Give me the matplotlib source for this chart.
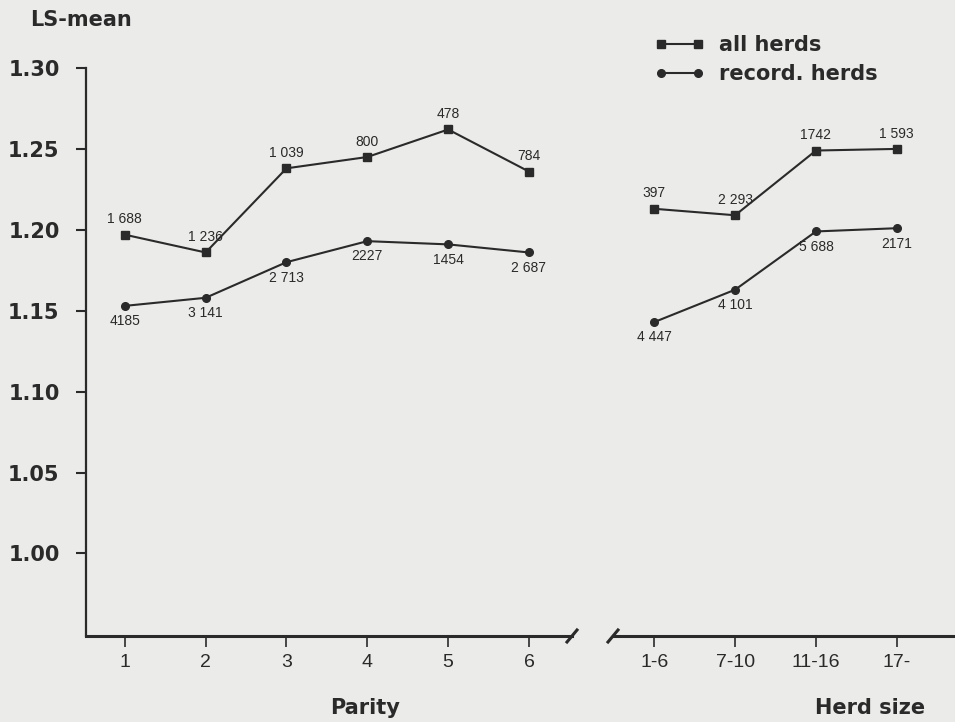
import matplotlib.pyplot as plt
import numpy as np

plt.rcParams['font.family'] = ['Liberation Sans', 'DejaVu Sans']

# data
parity_labels = ["1", "2", "3", "4", "5", "6"]
herd_labels = ["1-6", "7-10", "11-16", "17-"]

all_parity = [1.197, 1.186, 1.238, 1.245, 1.262, 1.236]
rec_parity = [1.153, 1.158, 1.180, 1.193, 1.191, 1.186]
all_herd = [1.213, 1.209, 1.249, 1.250]
rec_herd = [1.143, 1.163, 1.199, 1.201]

n_all_parity = ["1 688", "1 236", "1 039", "800", "478", "784"]
n_rec_parity = ["4185", "3 141", "2 713", "2227", "1454", "2 687"]
n_all_herd = ["397", "2 293", "1742", "1 593"]
n_rec_herd = ["4 447", "4 101", "5 688", "2171"]

bg = '#ebebea'
ink = '#2a2a2a'
bold_font = {'family': 'DejaVu Sans', 'weight': 'bold', 'size': 15}

x_par = np.arange(1, len(parity_labels) + 1)
x_herd = np.arange(len(herd_labels)) + 7.55

fig = plt.figure(figsize=(9.55, 7.22), dpi=100, facecolor=bg)
ax = fig.add_axes([86/955, 1 - 636/722, 1 - 86/955, (636 - 68)/722])
ax.set_facecolor(bg)
ax.set_xlim(0.52, 11.27)
ax.set_ylim(0.949, 1.30)

line_kw = dict(color=ink, lw=1.5, markersize=5.5, clip_on=False)
l1, = ax.plot(x_par, all_parity, marker='s', **line_kw)
l2, = ax.plot(x_par, rec_parity, marker='o', **line_kw)
ax.plot(x_herd, all_herd, marker='s', **line_kw)
ax.plot(x_herd, rec_herd, marker='o', **line_kw)

# sample size labels
lab_kw = dict(textcoords='offset points', ha='center', fontsize=10, color=ink)
for x, y, t in zip(np.r_[x_par, x_herd], all_parity + all_herd, n_all_parity + n_all_herd):
    ax.annotate(t, (x, y), xytext=(0, 6), va='bottom', **lab_kw)
for x, y, t in zip(np.r_[x_par, x_herd], rec_parity + rec_herd, n_rec_parity + n_rec_herd):
    ax.annotate(t, (x, y), xytext=(0, -6), va='top', **lab_kw)

# axes styling
for s in ['top', 'right', 'bottom']:
    ax.spines[s].set_visible(False)
ax.spines['left'].set_linewidth(1.6)
ax.spines['left'].set_color(ink)

ax.set_yticks([1.00, 1.05, 1.10, 1.15, 1.20, 1.25, 1.30])
ax.set_yticklabels(["1.00", "1.05", "1.10", "1.15", "1.20", "1.25", "1.30"],
                   fontdict=bold_font, color=ink)
ax.tick_params(axis='y', length=7, width=1.5, color=ink, pad=12)

ax.set_xticks(np.r_[x_par, x_herd])
ax.set_xticklabels(parity_labels + herd_labels, fontsize=14, color=ink)
ax.tick_params(axis='x', length=8, width=1.2, color=ink, pad=5)

# broken x axis
tr = ax.transAxes
xb1 = (572 - 86) / (955 - 86)
xb2 = (613 - 86) / (955 - 86)
ax.plot([0, xb1], [0, 0], transform=tr, color=ink, lw=2.2, clip_on=False)
ax.plot([xb2, 1], [0, 0], transform=tr, color=ink, lw=2.2, clip_on=False)
dx, dy = 5 / 869, 6 / 568
for xb in (xb1, xb2):
    ax.plot([xb - dx, xb + dx], [-dy, dy], transform=tr, color=ink, lw=2.2, clip_on=False)

# titles
fig.text(30/955, 1 - 20/722, "LS-mean", fontdict=bold_font, color=ink, va='center')
fig.text(365/955, 1 - 708/722, "Parity", fontdict=bold_font, color=ink, ha='center', va='center')
fig.text(870/955, 1 - 708/722, "Herd size", fontdict=bold_font, color=ink, ha='center', va='center')

ax.legend([l1, l2], ["all herds", "record. herds"], loc='upper left',
          bbox_to_anchor=(646/955, 1 - 27/722), bbox_transform=fig.transFigure,
          frameon=False, numpoints=2, handlelength=2.4, handletextpad=0.7,
          labelspacing=0.42, prop=bold_font, labelcolor=ink, borderaxespad=0)

fig.savefig('out.png', dpi=100, facecolor=bg)
